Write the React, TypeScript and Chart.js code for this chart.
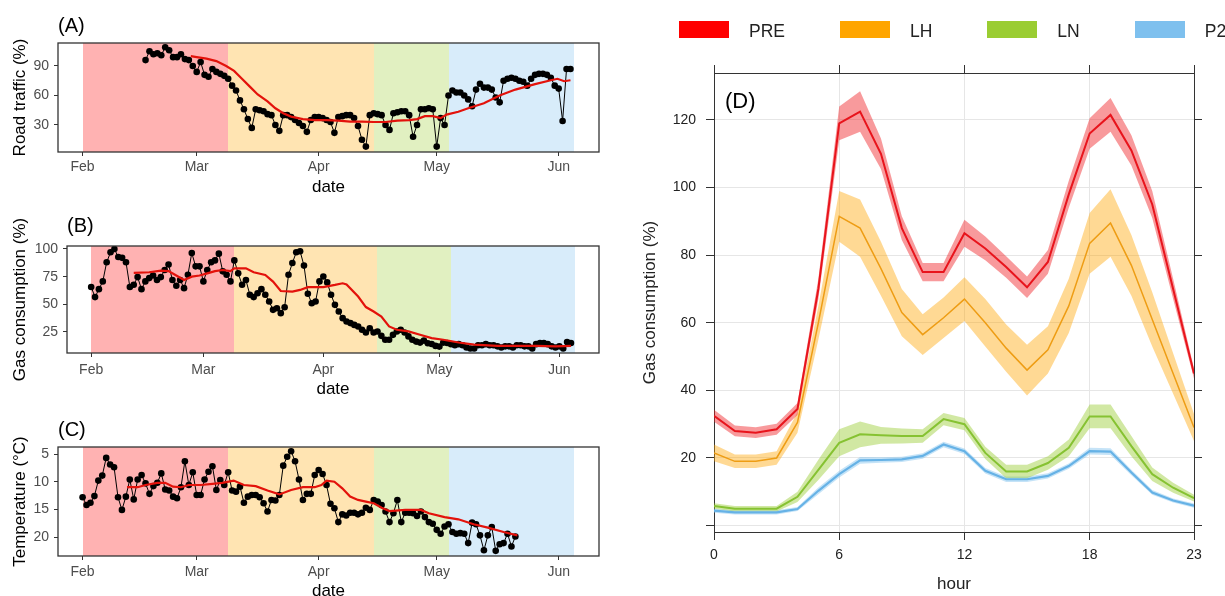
import React, { useEffect, useRef } from 'react';
import { Chart, registerables } from 'chart.js';

Chart.register(...registerables);

const FONT = "'Liberation Sans', Arial, Helvetica, sans-serif";
Chart.defaults.font.family = FONT;

// ---------- phases (shared by all panels) ----------
const phaseNames = ['PRE', 'LH', 'LN', 'P2'];
const phaseStartDays = [0, 37, 74, 93];
const phaseEndDays = [37, 74, 93, 125];
const phaseColors = ['#ff0000', '#ffa500', '#9acd32', '#7ec0ee'];
const phaseShades = ['rgba(255,0,0,0.3)', 'rgba(255,165,0,0.3)', 'rgba(154,205,50,0.3)', 'rgba(126,192,238,0.3)'];

// ---------- date axis (day 0 = 1 Feb) ----------
const monthTickDays = [0, 29, 60, 90, 121];
const monthTickLabels = ['Feb', 'Mar', 'Apr', 'May', 'Jun'];
const dayAxisMin = -6.25;
const dayAxisMax = 131.25;

// ---------- (A) road traffic ----------
const trafficFirstDay = 16;
const trafficValues = [
  96, 105, 102, 103, 101, 109, 106, 99, 99, 102, 97, 96, 90, 84,
  94, 81, 79, 87, 84, 82, 80, 77, 70, 65, 55, 46, 36, 27,
  46, 45, 44, 41, 40, 30, 24, 40, 40, 38, 35, 32, 29, 23,
  35, 38, 38, 37, 35, 33, 22, 38, 39, 40, 40, 37, 29, 15,
  8, 40, 42, 41, 40, 30, 25, 42, 43, 44, 44, 40, 18, 30,
  46, 46, 47, 46, 8, 37, 30, 60, 65, 63, 63, 60, 56, 49,
  66, 72, 68, 68, 66, 58, 53, 75, 77, 78, 77, 75, 74, 70,
  77, 81, 82, 82, 81, 78, 70, 67, 34, 87, 87,
];
const trafficTrendDays = [27.5, 29, 31.5, 34, 36.5, 38.5, 40.5, 42.5, 44.5, 47, 49, 51, 53, 56, 59, 62, 65, 68, 71, 74, 77, 80, 83, 85, 87, 89, 91, 92.5, 95.5, 98, 102, 106, 110, 115, 119, 120.7, 122.4, 124];
const trafficTrendValues = [100, 99, 97.5, 95, 90, 85, 77, 69, 61, 54, 47, 42, 38.5, 36, 35, 35, 34.5, 33.5, 33.5, 33, 33, 34.5, 35, 36, 39, 39, 37, 40.5, 43.5, 47, 52, 60, 66, 71.5, 75.5, 77, 74.5, 75.5];
const trafficTicks = [30, 60, 90];

// ---------- (B) gas consumption (daily) ----------
const gasFirstDay = 0;
const gasValues = [
  65.6, 56.5, 63.7, 70.7, 88, 97, 100, 92.7, 92, 88,
  65.6, 67.7, 74.6, 63.7, 70.7, 73.7, 76, 72, 74.6, 81,
  86, 72, 66.8, 72, 64.6, 76.7, 96.4, 84.3, 84.3, 70.7,
  81, 88, 89.7, 95.8, 79.8, 76.7, 70.7, 89.7, 78, 67.7,
  72, 58.6, 56.5, 60, 63.7, 58.6, 52.6, 45, 46.5, 42,
  47.4, 76.7, 87.3, 97, 97.9, 85, 59.5, 51, 52.6, 70.7,
  75.2, 69.8, 58.6, 49.5, 43.5, 37.5, 34.4, 33, 31.4, 30,
  27, 24.5, 28.4, 24.5, 25.4, 21.5, 18, 18, 22.4, 25.4,
  27, 24.5, 21, 18, 16.3, 15.4, 17.2, 14.8, 14.2, 12.4,
  11.8, 15.4, 15, 14, 13, 14, 13, 11, 10, 10,
  13, 13, 14, 13, 13, 12, 11, 12, 12, 11,
  13, 13, 12, 12, 10, 14, 15, 15, 14, 12,
  11, 12, 10, 16, 15,
];
const gasTrendDays = [11, 15, 18, 20, 22, 24, 26, 28, 30, 32, 34, 36, 37, 40, 42, 45, 47, 49, 52, 54, 56, 60, 63, 65, 66, 69, 71, 73, 75, 77, 79, 82, 85, 88, 91, 95, 99, 105, 110, 115, 120, 124];
const gasTrendValues = [78.5, 79, 80.5, 80, 76, 72, 75, 76, 78, 80, 81, 80, 82.5, 82.5, 79, 76.5, 70.5, 62, 61.5, 63, 65.5, 65.5, 67.5, 69, 68, 57, 47.5, 43.5, 39, 30, 27, 25.5, 22.5, 19.5, 18, 15.5, 13.5, 12.5, 12.5, 12.5, 12, 12.5];
const gasTicks = [25, 50, 75, 100];

// ---------- (C) temperature ----------
const tempFirstDay = 0;
const tempValues = [
  12.8, 14.2, 13.8, 12.6, 9.8, 8.9, 5.7, 6.9, 7.4, 12.8,
  15.1, 12.7, 9.6, 13.2, 9.6, 8.8, 10.3, 12.2, 10.8, 10.2,
  8.5, 11.4, 11.6, 12.7, 13.0, 11.0, 6.3, 10.6, 8.3, 12.4,
  12.4, 9.6, 8.2, 7.2, 11.5, 9.7, 10.6, 8.3, 11.6, 11.8,
  10.9, 13.8, 12.7, 12.4, 12.4, 12.8, 13.9, 15.4, 13.3, 13.4,
  12.4, 7.1, 5.5, 4.5, 6.3, 9.6, 13.3, 12.2, 12.2, 8.8,
  7.9, 8.6, 10.6, 14.0, 14.8, 17.3, 15.9, 16.1, 15.6, 15.6,
  15.9, 15.6, 14.7, 15.1, 13.3, 13.6, 14.2, 15.4, 17.3, 15.7,
  13.3, 17.3, 15.6, 15.6, 15.7, 16.2, 15.4, 16.4, 17.3, 17.6,
  18.7, 19.4, 18.1, 17.7, 19.1, 19.4, 19.3, 19.4, 21.1, 17.4,
  17.7, 19.7, 22.4, 19.7, 18.2, 22.5, 21.3, 21.1, 19.4, 21.7,
  19.9,
];
const tempTrendDays = [11.3, 14, 16, 19, 21, 23, 25, 27, 30, 33, 35.5, 38.4, 41, 44, 47, 50, 53, 56, 59, 60.7, 62, 64, 66, 68, 70, 72, 74, 76, 78, 82, 86, 88, 92, 95.5, 99.4, 103, 107, 110.5];
const tempTrendValues = [11, 11, 10.6, 10.2, 10.2, 10.9, 11, 10.6, 10.6, 10.4, 10.2, 9.8, 10.6, 10.8, 11.6, 12.3, 11.5, 11, 11, 10.6, 9.8, 10, 11.2, 12.7, 13.3, 13.6, 13.9, 14.7, 15.3, 15.1, 15.1, 15.7, 16.4, 16.8, 17.7, 18.3, 19.1, 19.7];
const tempTicks = [5, 10, 15, 20];

// ---------- (D) hourly gas consumption by phase ----------
const hours = [0, 1, 2, 3, 4, 5, 6, 7, 8, 9, 10, 11, 12, 13, 14, 15, 16, 17, 18, 19, 20, 21, 22, 23];
const hourTicks = [0, 6, 12, 18, 23];
const hourlyYTicks = [0, 20, 40, 60, 80, 100, 120];

const preMean = [32.5, 28, 27.5, 28.5, 34.5, 70, 119, 122.5, 110, 88, 75, 75, 86.5, 82, 76.5, 70.5, 78, 98, 116, 121.5, 111, 95, 70, 45];
const preLow = [30.7, 26.4, 25.9, 26.9, 32.7, 67, 114, 116.5, 105.5, 84.5, 72.3, 72.3, 82.5, 78.5, 73.3, 67.3, 74.5, 94, 111.5, 116.5, 106.5, 91, 67, 43.5];
const preHigh = [34.3, 29.6, 29.1, 30.1, 36.3, 73, 124, 128.5, 114.5, 91.5, 77.7, 77.7, 90.5, 85.5, 79.7, 73.7, 81.5, 102, 120.5, 126.5, 115.5, 99, 73, 46.5];

const lhMean = [21.5, 19, 19, 20, 30.5, 60, 91.5, 88, 76, 63, 56.5, 61.5, 67, 60, 52.5, 46, 52, 65, 83.5, 89.5, 77, 61, 45, 29];
const lhLow = [19, 17, 17, 18, 27.5, 55, 84, 79.5, 68, 56, 50.5, 55.5, 60.5, 53, 45.5, 38.5, 45, 57, 74.5, 79.5, 68, 53, 39, 25];
const lhHigh = [24, 21, 21, 22, 33.5, 65, 99, 96.5, 84, 70, 62.5, 67.5, 73.5, 67, 59.5, 53.5, 59, 73, 92.5, 99.5, 86, 69, 51, 33];

const lnMean = [5.8, 5, 5, 5, 8.5, 16.5, 24.5, 27, 26.7, 26.5, 26.5, 31.5, 30, 21.5, 16, 16, 18.5, 23, 32.3, 32.3, 23.5, 15.2, 11.2, 8.1];
const lnLow = [5, 4.2, 4.2, 4.2, 7, 13.5, 20.5, 23.2, 24.2, 24.3, 24.5, 29.7, 28.2, 19.7, 14, 14, 16.5, 20.5, 28.8, 28.8, 20.5, 13.2, 9.7, 7.1];
const lnHigh = [6.6, 5.8, 5.8, 5.8, 10, 19.5, 28.5, 30.8, 29.2, 28.7, 28.5, 33.3, 31.8, 23.3, 18, 18, 20.5, 25.5, 35.8, 35.8, 26.5, 17.2, 12.7, 9.1];

const p2Mean = [4.4, 3.9, 3.9, 3.9, 4.9, 10.3, 15.2, 19.3, 19.4, 19.6, 20.6, 24, 22, 16.2, 13.7, 13.7, 14.7, 17.6, 22, 21.9, 15.7, 9.8, 7.4, 5.9];
const p2Low = [3.8, 3.3, 3.3, 3.3, 4.3, 9.3, 14.2, 18.3, 18.6, 18.8, 19.8, 23.2, 21.2, 15.4, 12.9, 12.9, 13.9, 16.8, 21, 20.9, 14.9, 9.1, 6.8, 5.3];
const p2High = [5, 4.5, 4.5, 4.5, 5.5, 11.3, 16.2, 20.3, 20.2, 20.4, 21.4, 24.8, 22.8, 17, 14.5, 14.5, 15.5, 18.4, 23, 22.9, 16.5, 10.5, 8, 6.5];

const hourlyMeans = [preMean, lhMean, lnMean, p2Mean];
const hourlyLows = [preLow, lhLow, lnLow, p2Low];
const hourlyHighs = [preHigh, lhHigh, lnHigh, p2High];
const hourlyLineColors = ['#e8141c', '#ee9d14', '#86c232', '#66b2e6'];
const hourlyBandColors = ['rgba(240,30,35,0.45)', 'rgba(255,165,0,0.42)', 'rgba(154,205,50,0.45)', 'rgba(126,192,238,0.45)'];
const hourlyLineWidths = [2, 1.5, 2, 2.2];

// ---------- helpers ----------
const seqPoints = (first: number, vals: number[]) => vals.map((v, i) => ({ x: first + i, y: v }));
const zipPoints = (xs: number[], ys: number[]) => xs.map((x, i) => ({ x, y: ys[i] }));
const fixedTicks = (vals: number[]) => (scale: any) => {
  scale.ticks = vals.map((v) => ({ value: v }));
};

const phaseShadePlugin = {
  id: 'phaseShade',
  beforeDatasetsDraw(chart: any) {
    const { ctx, chartArea, scales } = chart;
    const xs = scales.x;
    ctx.save();
    ctx.beginPath();
    ctx.rect(chartArea.left, chartArea.top, chartArea.width, chartArea.height);
    ctx.clip();
    phaseStartDays.forEach((s, i) => {
      const x0 = Math.round(xs.getPixelForValue(s));
      const x1 = Math.round(xs.getPixelForValue(phaseEndDays[i]));
      ctx.fillStyle = phaseShades[i];
      ctx.fillRect(x0, chartArea.top, x1 - x0, chartArea.height);
    });
    ctx.restore();
  },
};

const framePlugin = {
  id: 'frame',
  afterDatasetsDraw(chart: any) {
    const { ctx, chartArea } = chart;
    ctx.save();
    ctx.strokeStyle = '#333333';
    ctx.lineWidth = 1.3;
    ctx.strokeRect(chartArea.left, chartArea.top, chartArea.width, chartArea.height);
    ctx.restore();
  },
};

const panelLabelPlugin = {
  id: 'panelLabel',
  afterDraw(chart: any, _args: any, opts: any) {
    const { ctx, chartArea } = chart;
    ctx.save();
    ctx.font = `${opts.size}px ${FONT}`;
    ctx.fillStyle = '#000';
    ctx.textAlign = 'left';
    ctx.textBaseline = 'middle';
    ctx.fillText(opts.text, chartArea.left + (opts.dx || 0), opts.y);
    ctx.restore();
  },
};

type TimePanel = {
  label: string;
  yTitle: string;
  points: { x: number; y: number }[];
  trend: { x: number; y: number }[];
  yMin: number;
  yMax: number;
  yTicks: number[];
  reverse?: boolean;
  top: number;
  yWidth: number;
  xHeight: number;
  xTickPad: number;
  xTitlePadBottom: number;
  labelY: number;
};

function timePanelConfig(p: TimePanel): any {
  return {
    type: 'line',
    data: {
      datasets: [
        { data: p.trend, borderColor: '#e3120b', borderWidth: 2.2, pointRadius: 0, fill: false, order: 0 },
        {
          data: p.points,
          borderColor: '#000',
          borderWidth: 1,
          pointRadius: 3.3,
          pointHoverRadius: 3.3,
          pointBackgroundColor: '#000',
          pointBorderWidth: 0,
          fill: false,
          order: 1,
        },
      ],
    },
    options: {
      responsive: false,
      animation: false,
      events: [],
      layout: { padding: { left: 0, top: p.top, right: 11, bottom: 0 } },
      plugins: {
        legend: { display: false },
        tooltip: { enabled: false },
        panelLabel: { text: p.label, y: p.labelY, size: 20, dx: 0 },
      },
      scales: {
        x: {
          type: 'linear',
          min: dayAxisMin,
          max: dayAxisMax,
          afterBuildTicks: fixedTicks(monthTickDays),
          afterFit: (s: any) => {
            s.height = p.xHeight;
          },
          ticks: {
            autoSkip: false,
            maxRotation: 0,
            padding: p.xTickPad,
            color: '#4d4d4d',
            font: { size: 14, family: FONT },
            callback: (v: number) => monthTickLabels[monthTickDays.indexOf(v)] ?? '',
          },
          grid: { drawOnChartArea: false, drawTicks: true, tickLength: 4, tickColor: '#333', color: '#333' },
          border: { display: false },
          title: {
            display: true,
            text: 'date',
            color: '#000',
            font: { size: 17, family: FONT },
            padding: { top: 0, bottom: p.xTitlePadBottom },
          },
        },
        y: {
          type: 'linear',
          min: p.yMin,
          max: p.yMax,
          reverse: !!p.reverse,
          afterBuildTicks: fixedTicks(p.yTicks),
          afterFit: (s: any) => {
            s.width = p.yWidth;
          },
          ticks: { padding: 5, color: '#4d4d4d', font: { size: 14, family: FONT } },
          grid: { drawOnChartArea: false, drawTicks: true, tickLength: 4, tickColor: '#333', color: '#333' },
          border: { display: false },
          title: {
            display: true,
            text: p.yTitle,
            color: '#000',
            font: { size: 17, family: FONT },
            padding: { top: 9.8, bottom: 0 },
          },
        },
      },
    },
    plugins: [phaseShadePlugin, framePlugin, panelLabelPlugin],
  };
}

function hourlyConfig(): any {
  const datasets: any[] = [];
  phaseNames.forEach((name, i) => {
    datasets.push({
      label: name + ' lower',
      data: zipPoints(hours, hourlyLows[i]),
      borderColor: 'transparent',
      borderWidth: 0,
      pointRadius: 0,
      fill: false,
      order: 1,
    });
    datasets.push({
      label: name + ' upper',
      data: zipPoints(hours, hourlyHighs[i]),
      borderColor: 'transparent',
      borderWidth: 0,
      pointRadius: 0,
      backgroundColor: hourlyBandColors[i],
      fill: '-1',
      order: 1,
    });
  });
  phaseNames.forEach((name, i) => {
    datasets.push({
      label: name,
      data: zipPoints(hours, hourlyMeans[i]),
      borderColor: hourlyLineColors[i],
      borderWidth: hourlyLineWidths[i],
      pointRadius: 0,
      fill: false,
      order: 0,
    });
  });
  const tickFont = { size: 14, family: FONT };
  const axisGrid = { color: '#e6e6e6', lineWidth: 1, tickLength: 8, tickColor: '#333', drawTicks: true };
  const axisBorder = { display: true, color: '#333', width: 1 };
  return {
    type: 'line',
    data: { datasets },
    options: {
      responsive: false,
      animation: false,
      events: [],
      layout: { padding: 0 },
      plugins: {
        legend: { display: false },
        tooltip: { enabled: false },
        filler: { propagate: false },
        panelLabel: { text: '(D)', y: 102, size: 22, dx: 11 },
      },
      scales: {
        x: {
          type: 'linear',
          position: 'bottom',
          min: 0,
          max: 23,
          afterBuildTicks: fixedTicks(hourTicks),
          afterFit: (s: any) => {
            s.height = 64;
          },
          ticks: { autoSkip: false, maxRotation: 0, padding: 7, color: '#222', font: tickFont },
          grid: { ...axisGrid, drawOnChartArea: true },
          border: axisBorder,
          title: { display: true, text: 'hour', color: '#222', font: { size: 17, family: FONT }, padding: { top: 0, bottom: 1 } },
        },
        x2: {
          type: 'linear',
          position: 'top',
          min: 0,
          max: 23,
          afterBuildTicks: fixedTicks(hourTicks),
          afterFit: (s: any) => {
            s.height = 73;
          },
          ticks: { display: false },
          grid: { ...axisGrid, drawOnChartArea: false },
          border: axisBorder,
        },
        y: {
          type: 'linear',
          position: 'left',
          min: -1.9,
          max: 133.9,
          afterBuildTicks: fixedTicks(hourlyYTicks),
          afterFit: (s: any) => {
            s.width = 114;
          },
          ticks: {
            padding: 10,
            color: '#222',
            font: tickFont,
            callback: (v: number) => (v === 0 ? '' : String(v)),
          },
          grid: { ...axisGrid, drawOnChartArea: true },
          border: axisBorder,
          title: {
            display: true,
            text: 'Gas consumption (%)',
            color: '#222',
            font: { size: 17, family: FONT },
            padding: { top: 40, bottom: 0 },
          },
        },
        y2: {
          type: 'linear',
          position: 'right',
          min: -1.9,
          max: 133.9,
          afterBuildTicks: fixedTicks(hourlyYTicks),
          afterFit: (s: any) => {
            s.width = 31;
          },
          ticks: { display: false },
          grid: { ...axisGrid, drawOnChartArea: false },
          border: axisBorder,
        },
      },
    },
    plugins: [panelLabelPlugin],
  };
}

export default function App() {
  const refA = useRef<HTMLCanvasElement>(null);
  const refB = useRef<HTMLCanvasElement>(null);
  const refC = useRef<HTMLCanvasElement>(null);
  const refD = useRef<HTMLCanvasElement>(null);

  useEffect(() => {
    const charts: Chart[] = [];
    charts.push(
      new Chart(
        refA.current as HTMLCanvasElement,
        timePanelConfig({
          label: '(A)',
          yTitle: 'Road traffic (%)',
          points: seqPoints(trafficFirstDay, trafficValues),
          trend: zipPoints(trafficTrendDays, trafficTrendValues),
          yMin: 2.5,
          yMax: 113.4,
          yTicks: trafficTicks,
          top: 43,
          yWidth: 58,
          xHeight: 48,
          xTickPad: 2.6,
          xTitlePadBottom: 2.8,
          labelY: 26,
        })
      )
    );
    charts.push(
      new Chart(
        refB.current as HTMLCanvasElement,
        timePanelConfig({
          label: '(B)',
          yTitle: 'Gas consumption (%)',
          points: seqPoints(gasFirstDay, gasValues),
          trend: zipPoints(gasTrendDays, gasTrendValues),
          yMin: 6,
          yMax: 102.7,
          yTicks: gasTicks,
          top: 46,
          yWidth: 67,
          xHeight: 47,
          xTickPad: 4.5,
          xTitlePadBottom: 0.5,
          labelY: 26,
        })
      )
    );
    charts.push(
      new Chart(
        refC.current as HTMLCanvasElement,
        timePanelConfig({
          label: '(C)',
          yTitle: 'Temperature (°C)',
          points: seqPoints(tempFirstDay, tempValues),
          trend: zipPoints(tempTrendDays, tempTrendValues),
          yMin: 3.73,
          yMax: 23.43,
          yTicks: tempTicks,
          reverse: true,
          top: 47,
          yWidth: 58,
          xHeight: 54,
          xTickPad: 3.6,
          xTitlePadBottom: 8.4,
          labelY: 30,
        })
      )
    );
    charts.push(new Chart(refD.current as HTMLCanvasElement, hourlyConfig()));
    return () => charts.forEach((c) => c.destroy());
  }, []);

  const abs = (left: number, top: number): React.CSSProperties => ({ position: 'absolute', left, top });

  return (
    <div
      style={{
        position: 'absolute',
        left: 0,
        top: 0,
        width: 1225,
        height: 596,
        overflow: 'hidden',
        background: '#ffffff',
      }}
    >
      <canvas ref={refA} width={610} height={200} style={{ ...abs(0, 0), width: 610, height: 200 }} />
      <canvas ref={refB} width={610} height={200} style={{ ...abs(0, 200), width: 610, height: 200 }} />
      <canvas ref={refC} width={610} height={210} style={{ ...abs(0, 400), width: 610, height: 210 }} />
      <canvas ref={refD} width={625} height={596} style={{ ...abs(600, 0), width: 625, height: 596 }} />
      <div
        style={{
          ...abs(679, 21),
          display: 'flex',
          alignItems: 'center',
          gap: 55,
          fontFamily: FONT,
          fontSize: 17.5,
          color: '#222',
        }}
      >
        {phaseNames.map((n, i) => (
          <div key={n} style={{ display: 'flex', alignItems: 'center', gap: 20 }}>
            <div style={{ width: 50, height: 17, background: phaseColors[i] }} />
            <span style={{ lineHeight: '17px', position: 'relative', top: 2 }}>{n}</span>
          </div>
        ))}
      </div>
    </div>
  );
}
